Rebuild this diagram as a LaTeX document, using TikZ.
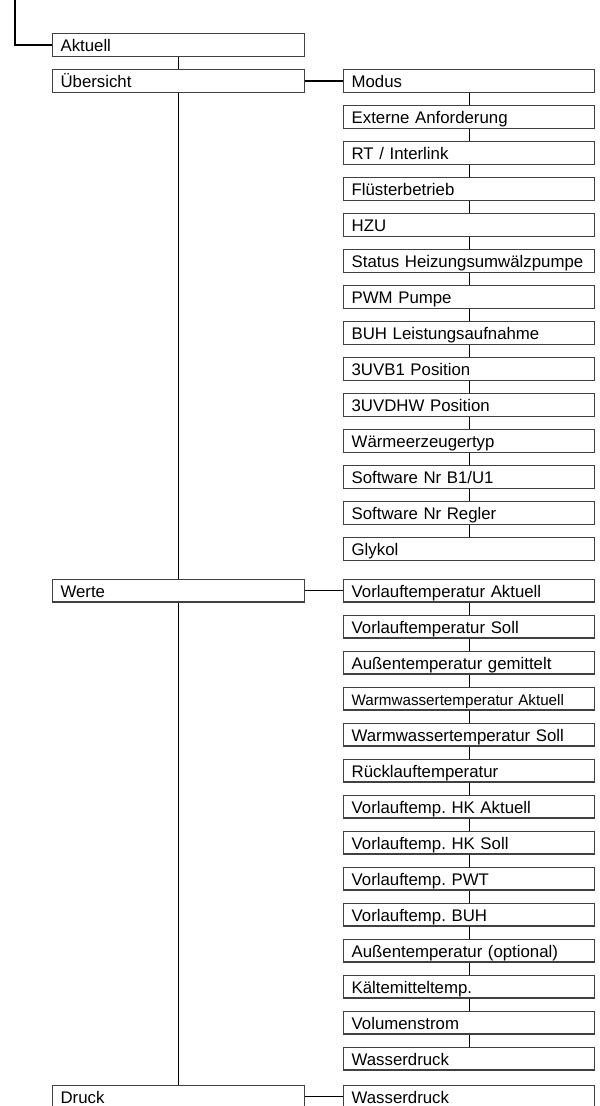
\documentclass[tikz,border=0pt]{standalone}
\usepackage{fontspec}
\setmainfont{Liberation Sans}
\usepackage{xcolor}
\usetikzlibrary{positioning}
\definecolor{boxgray}{HTML}{404040}
\frenchspacing

\begin{document}
\begin{tikzpicture}[
    node distance=6pt and 19pt,
    menubox/.style={rectangle, draw=boxgray, line width=0.55pt, text width=118pt, inner xsep=4pt, inner ysep=0pt, minimum height=11.45pt, align=left, text height=6.6pt, text depth=0pt, font=\fontsize{8.4}{10}\selectfont},
    subbox/.style={menubox, text width=117.5pt},
    tinybox/.style={subbox, font=\fontsize{7.6}{9}\selectfont},
    link/.style={line width=0.55pt}
]

\clip (0,0) rectangle (299.5pt,-553pt);

% Entry line
\coordinate (start) at (7.5pt,0pt);

% Main menu
\node[menubox, anchor=north west] (aktuell) at (26pt,-16.5pt) {Aktuell};
\node[menubox, below=of aktuell] (uebersicht) {Übersicht};

% Übersicht items
\node[subbox, right=of uebersicht] (modus) {Modus};
\node[subbox, below=of modus] (extern) {Externe Anforderung};
\node[subbox, below=of extern] (rtlink) {RT / Interlink};
\node[subbox, below=of rtlink] (fluester) {Flüsterbetrieb};
\node[subbox, below=of fluester] (hzu) {HZU};
\node[subbox, below=of hzu] (statushp) {Status Heizungsumwälzpumpe};
\node[subbox, below=of statushp] (pwm) {PWM Pumpe};
\node[subbox, below=of pwm] (buh) {BUH Leistungsaufnahme};
\node[subbox, below=of buh] (uvbone) {3UVB1 Position};
\node[subbox, below=of uvbone] (uvdhw) {3UVDHW Position};
\node[subbox, below=of uvdhw] (wtyp) {Wärmeerzeugertyp};
\node[subbox, below=of wtyp] (swbu) {Software Nr B1/U1};
\node[subbox, below=of swbu] (swregler) {Software Nr Regler};
\node[subbox, below=of swregler] (glykol) {Glykol};

% Werte items
\node[subbox, below=8.75pt of glykol] (vlist) {Vorlauftemperatur Aktuell};
\node[menubox, left=of vlist] (werte) {Werte};
\node[subbox, below=of vlist] (vlsoll) {Vorlauftemperatur Soll};
\node[subbox, below=of vlsoll] (atgem) {Außentemperatur gemittelt};
\node[tinybox, below=of atgem] (wwist) {Warmwassertemperatur Aktuell};
\node[subbox, below=of wwist] (wwsoll) {Warmwassertemperatur Soll};
\node[subbox, below=of wwsoll] (rltemp) {Rücklauftemperatur};
\node[subbox, below=of rltemp] (hkist) {Vorlauftemp. HK Aktuell};
\node[subbox, below=of hkist] (hksoll) {Vorlauftemp. HK Soll};
\node[subbox, below=of hksoll] (pwt) {Vorlauftemp. PWT};
\node[subbox, below=of pwt] (vlbuh) {Vorlauftemp. BUH};
\node[subbox, below=of vlbuh] (atopt) {Außentemperatur (optional)};
\node[subbox, below=of atopt] (kmtemp) {Kältemitteltemp.};
\node[subbox, below=of kmtemp] (vstrom) {Volumenstrom};
\node[subbox, below=of vstrom] (wdruck) {Wasserdruck};

% Druck items
\node[subbox, below=7pt of wdruck] (druckw) {Wasserdruck};
\node[menubox, left=of druckw] (druck) {Druck};

% Main connectors
\draw[link] (start) |- (aktuell.west);
\draw[link] (aktuell) -- (uebersicht);
\draw[link] (uebersicht) -- (werte);
\draw[link] (werte) -- (druck);
\draw[link] (uebersicht) -- (modus);
\draw[link] (werte) -- (vlist);
\draw[link] (druck) -- (druckw);

% Übersicht chain
\draw[link] (modus) -- (extern);
\draw[link] (extern) -- (rtlink);
\draw[link] (rtlink) -- (fluester);
\draw[link] (fluester) -- (hzu);
\draw[link] (hzu) -- (statushp);
\draw[link] (statushp) -- (pwm);
\draw[link] (pwm) -- (buh);
\draw[link] (buh) -- (uvbone);
\draw[link] (uvbone) -- (uvdhw);
\draw[link] (uvdhw) -- (wtyp);
\draw[link] (wtyp) -- (swbu);
\draw[link] (swbu) -- (swregler);
\draw[link] (swregler) -- (glykol);

% Werte chain
\draw[link] (vlist) -- (vlsoll);
\draw[link] (vlsoll) -- (atgem);
\draw[link] (atgem) -- (wwist);
\draw[link] (wwist) -- (wwsoll);
\draw[link] (wwsoll) -- (rltemp);
\draw[link] (rltemp) -- (hkist);
\draw[link] (hkist) -- (hksoll);
\draw[link] (hksoll) -- (pwt);
\draw[link] (pwt) -- (vlbuh);
\draw[link] (vlbuh) -- (atopt);
\draw[link] (atopt) -- (kmtemp);
\draw[link] (kmtemp) -- (vstrom);
\draw[link] (vstrom) -- (wdruck);

\end{tikzpicture}
\end{document}
